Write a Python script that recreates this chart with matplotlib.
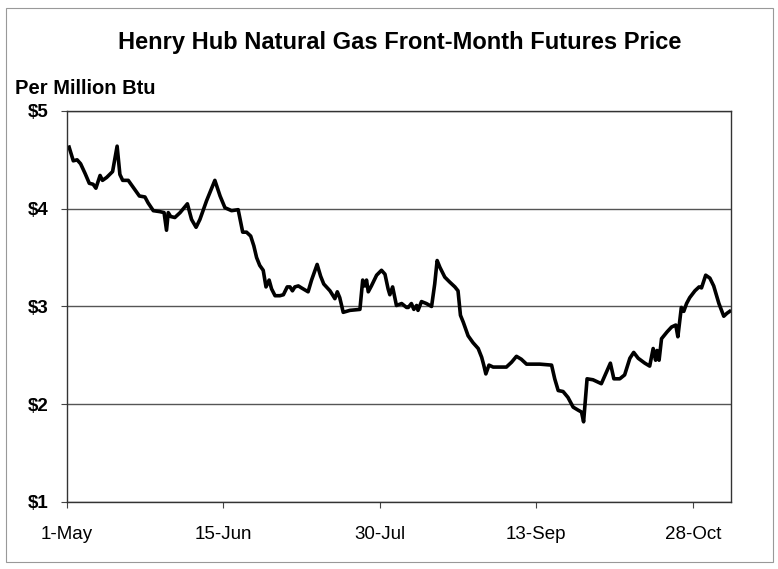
import datetime as dt

import matplotlib
matplotlib.use("Agg")
import matplotlib.pyplot as plt
from matplotlib.patches import Rectangle

# =========================================
# Data (days after 1-May, $ per MMBtu)
# =========================================
start = dt.datetime(2001, 5, 1)

days = [0.7, 1.9, 3.0, 4.0, 5.3, 6.5, 7.6, 8.4, 9.6, 10.3, 11.5, 13.2, 14.5, 15.3,
        16.1, 17.7, 19.1, 20.9, 22.5, 23.4, 24.9, 26.8, 28.0, 28.7, 29.2, 29.9,
        31.1, 32.6, 34.7, 35.9, 37.2, 38.3, 40.2, 42.6, 44.1, 45.5, 47.4, 49.3,
        50.6, 51.7, 52.9, 53.8, 54.6, 55.5, 56.5, 57.3, 58.2, 58.9, 59.9, 61.3,
        62.3, 63.4, 64.2, 64.9, 65.6, 66.6, 67.5, 69.4, 70.4, 72.0, 73.0, 73.9,
        75.7, 77.1, 77.8, 78.5, 79.5, 81.4, 84.3, 85.1, 85.7, 86.2, 86.7, 87.6,
        89.1, 90.5, 91.5, 92.4, 92.9, 93.7, 94.8, 96.3, 97.7, 98.2, 99.1, 99.8,
        100.6, 101.0, 102.0, 103.4, 104.9, 105.8, 106.5, 107.3, 108.7, 110.1,
        111.6, 112.5, 113.2, 114.0, 115.4, 116.8, 118.3, 119.3, 119.9, 120.5,
        121.4, 122.6, 126.4, 127.9, 129.3, 130.7, 132.2, 136.0, 139.4, 140.3,
        141.3, 142.7, 144.1, 145.6, 147.0, 148.0, 148.6, 149.6, 151.3, 153.7,
        155.2, 156.3, 157.3, 159.0, 160.4, 161.9, 163.0, 164.3, 166.2, 167.6,
        168.6, 169.3, 169.7, 170.3, 171.0, 172.6, 173.9, 175.1, 175.7, 176.7,
        177.4, 178.2, 179.1, 180.6, 181.8, 182.5, 183.7, 184.9, 186.0, 187.5,
        188.9, 189.8, 190.6]

price = [4.63, 4.49, 4.50, 4.46, 4.36, 4.26, 4.25, 4.21, 4.34, 4.29, 4.32, 4.38, 4.64, 4.35,
         4.29, 4.29, 4.22, 4.13, 4.12, 4.06, 3.98, 3.97, 3.96, 3.78, 3.96, 3.92,
         3.91, 3.96, 4.05, 3.89, 3.81, 3.89, 4.08, 4.29, 4.13, 4.01, 3.98, 3.99,
         3.76, 3.76, 3.72, 3.62, 3.50, 3.42, 3.37, 3.20, 3.27, 3.18, 3.11, 3.11,
         3.12, 3.20, 3.20, 3.16, 3.20, 3.21, 3.19, 3.15, 3.27, 3.43, 3.31, 3.23,
         3.16, 3.08, 3.15, 3.09, 2.94, 2.96, 2.97, 3.27, 3.21, 3.27, 3.15, 3.21,
         3.32, 3.37, 3.33, 3.18, 3.12, 3.20, 3.01, 3.03, 2.99, 2.99, 3.03, 2.97,
         3.01, 2.96, 3.05, 3.03, 3.00, 3.23, 3.47, 3.40, 3.30, 3.25,
         3.20, 3.16, 2.91, 2.84, 2.70, 2.63, 2.57, 2.48, 2.40, 2.31,
         2.40, 2.38, 2.38, 2.43, 2.49, 2.46, 2.41, 2.41, 2.40, 2.26,
         2.14, 2.13, 2.07, 1.97, 1.94, 1.92, 1.82, 2.26, 2.25, 2.21,
         2.33, 2.42, 2.26, 2.26, 2.30, 2.47, 2.53, 2.47, 2.42, 2.39,
         2.57, 2.45, 2.55, 2.45, 2.67, 2.74, 2.79, 2.81, 2.69, 2.99,
         2.95, 3.03, 3.09, 3.16, 3.20, 3.19, 3.32, 3.29, 3.21, 3.03,
         2.90, 2.93, 2.95]

tick_days = [0, 45, 90, 135, 180]
tick_labels = ["1-May", "15-Jun", "30-Jul", "13-Sep", "28-Oct"]
y_ticks = [1, 2, 3, 4, 5]
y_labels = ["$1", "$2", "$3", "$4", "$5"]

dates = [start + dt.timedelta(days=d) for d in days]

# =========================================
# Plot
# =========================================
plt.rcParams["font.family"] = ["Liberation Sans", "DejaVu Sans"]

fig = plt.figure(figsize=(7.78, 5.69), dpi=100)
ax = fig.add_axes([0.0857, 0.1178, 0.854, 0.6872])

ax.plot(dates, price, color="black", linewidth=2.6, solid_joinstyle="round")

ax.set_xlim(start, start + dt.timedelta(days=191))
ax.set_ylim(1, 5)

ax.set_xticks([start + dt.timedelta(days=d) for d in tick_days])
ax.set_xticklabels(tick_labels, fontsize=13.5)
ax.set_yticks(y_ticks)
ax.set_yticklabels(y_labels, fontsize=13.5, fontweight="bold")
ax.tick_params(axis="both", direction="out", length=4, width=0.8, color="#444444")
ax.tick_params(axis="x", pad=13)
ax.tick_params(axis="y", pad=9)

ax.grid(axis="y", color="#555555", linewidth=1.0)
ax.set_axisbelow(True)
for s in ax.spines.values():
    s.set_color("#333333")
    s.set_linewidth(1.0)

fig.text(0.514, 0.926, "Henry Hub Natural Gas Front-Month Futures Price",
         ha="center", va="center", fontsize=17, fontweight="bold")
fig.text(0.019, 0.845, "Per Million Btu", ha="left", va="center",
         fontsize=14.5, fontweight="bold")

# light outer frame like the scanned original
fig.patches.append(Rectangle((0.008, 0.012), 0.985, 0.974, transform=fig.transFigure,
                             fill=False, edgecolor="#999999", linewidth=0.8))

fig.savefig("out.png", dpi=100)
